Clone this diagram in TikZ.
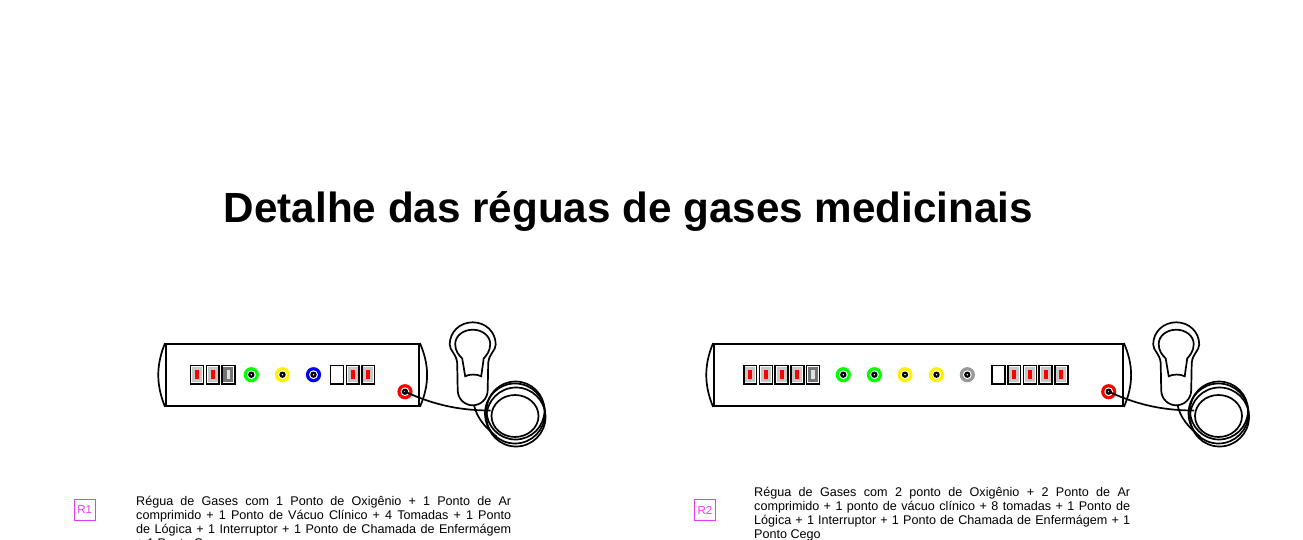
\documentclass[tikz,border=0pt]{standalone}
\usepackage{fontspec}
\setmainfont{Liberation Sans}
\definecolor{tagviolet}{HTML}{E23CF5}
\tikzset{
  x=1pt,y=-1pt,
  rail/.style={draw=black,line width=1.8pt,inner sep=0pt,minimum height=62pt},
  tag/.style={draw=tagviolet,line width=1.3pt,text=tagviolet,inner sep=0pt,minimum width=21pt,minimum height=20.5pt,font=\fontsize{11.5}{12}\selectfont},
  desc/.style={anchor=north west,inner sep=0pt,align=justify,font=\fontsize{12.6}{14}\selectfont},
  wire/.style={line width=1.7pt,draw=black},
  pics/gas/.style={code={
    \fill[#1] (0,0) circle (7.6);
    \fill[white] (0,0) circle (4.4);
    \fill[black] (0,0) circle (3.2);
    \fill[white] (0,0) circle (.8);
  }},
  pics/blankbox/.style={code={
    \draw[line width=1.6pt,fill=white] (-6.4,-9.2) rectangle (6.4,9.2);
  }},
  pics/powerbox/.style={code={
    \draw[line width=1.6pt,fill=white] (-6.4,-9.2) rectangle (6.4,9.2);
    \fill[black!22] (-5,-7.6) rectangle (5,7.6);
    \fill[red] (-2,-4.5) rectangle (2,4.5);
  }},
  pics/switchbox/.style={code={
    \draw[line width=1.6pt,fill=white] (-6.4,-9.2) rectangle (6.4,9.2);
    \fill[black!55] (-5,-7.6) rectangle (5,7.6);
    \fill[black!12] (-1.8,-4.5) rectangle (1.8,4.5);
  }},
  pics/handset/.style={code={
    \begin{scope}[wire]
    \draw (0,-52.7) .. controls (13,-52.7) and (23,-43) .. (23,-30.5)
      .. controls (23,-24) and (16.5,-22) .. (15.5,-12) -- (15,15)
      .. controls (15,24) and (8,30.3) .. (0,30.3)
      .. controls (-8,30.3) and (-15,24) .. (-15,15) -- (-15.5,-12)
      .. controls (-16.5,-22) and (-23,-24) .. (-23,-30.5)
      .. controls (-23,-43) and (-13,-52.7) .. (0,-52.7) -- cycle;
    \draw (0,-45.3) .. controls (9.7,-45.3) and (17.5,-39) .. (17.5,-31)
      .. controls (17.5,-24) and (14,-20) .. (11,-16.5) -- (8.5,1.3)
      .. controls (5,-1) and (-4,-1) .. (-7.5,1.3) -- (-10.5,-16.5)
      .. controls (-14,-20) and (-17.5,-24) .. (-17.5,-31)
      .. controls (-17.5,-39) and (-9.7,-45.3) .. (0,-45.3) -- cycle;
    \draw (42.8,35.5) circle (29);
    \draw (42.3,38.5) circle (30);
    \draw (43.3,42) circle (29.5);
    \draw (42.3,41) ellipse (23.5 and 21);
    \draw (1.3,30) .. controls (4,43) and (13,53) .. (24,61.7);
    \end{scope}
    \coordinate (-end) at (18,35.5);
  }},
}
\begin{document}
\begin{tikzpicture}
\useasboundingbox (0,0) rectangle (1303,540);
\clip (0,0) rectangle (1303,540);
\fill[white] (0,0) rectangle (1303,540);

\node[inner sep=0pt,font=\fontsize{42.2}{48}\selectfont\bfseries] (title) at (628.5,211.5) {Detalhe das réguas de gases medicinais};

% --- R1 ---
\node[rail,minimum width=253pt] (rail1) at (292.5,375) {};
\draw[wire] (rail1.north west) .. controls (156,365) and (156,385) .. (rail1.south west);
\draw[wire] (rail1.north east) .. controls (429.5,365) and (429.5,385) .. (rail1.south east);
\pic at (197,374.5) {powerbox};
\pic at (212.7,374.5) {powerbox};
\pic at (228.4,374.5) {switchbox};
\pic at (251.3,374.7) {gas=green};
\pic at (282.5,374.7) {gas=yellow};
\pic at (313.5,374.7) {gas=blue};
\pic at (337,374.5) {blankbox};
\pic at (352.8,374.5) {powerbox};
\pic at (368.2,374.5) {powerbox};
\pic at (405,391.7) {gas=red};
\coordinate (plug1) at (405,391.7);
\pic (hs1) at (472.7,375) {handset};
\draw[wire] (plug1) .. controls (430,403) and (455,410.5) .. (hs1-end);

\node[tag] (tag1) at (84.7,510) {R1};
\node[desc,text width=375pt] (txt1) at (136,496.5) {Régua de Gases com 1 Ponto de Oxigênio + 1 Ponto de Ar\linebreak comprimido + 1 Ponto de Vácuo Clínico + 4 Tomadas + 1 Ponto\linebreak de Lógica + 1 Interruptor + 1 Ponto de Chamada de Enfermágem\linebreak + 1 Ponto Cego};

% --- R2 ---
\node[rail,minimum width=409pt] (rail2) at (918.5,375) {};
\draw[wire] (rail2.north west) .. controls (704,365) and (704,385) .. (rail2.south west);
\draw[wire] (rail2.north east) .. controls (1133.5,365) and (1133.5,385) .. (rail2.south east);
\pic at (750.2,374.5) {powerbox};
\pic at (765.9,374.5) {powerbox};
\pic at (781.6,374.5) {powerbox};
\pic at (797.3,374.5) {powerbox};
\pic at (813,374.5) {switchbox};
\pic at (843.3,374.7) {gas=green};
\pic at (874.4,374.7) {gas=green};
\pic at (905,374.7) {gas=yellow};
\pic at (936.5,374.7) {gas=yellow};
\pic at (967.3,374.7) {gas={black!40}};
\pic at (998.5,374.5) {blankbox};
\pic at (1014.2,374.5) {powerbox};
\pic at (1029.9,374.5) {powerbox};
\pic at (1045.6,374.5) {powerbox};
\pic at (1061.3,374.5) {powerbox};
\pic at (1108.7,391.7) {gas=red};
\coordinate (plug2) at (1108.7,391.7);
\pic (hs2) at (1176.2,375) {handset};
\draw[wire] (plug2) .. controls (1133.7,403) and (1158.7,410.5) .. (hs2-end);

\node[tag] (tag2) at (705,510) {R2};
\node[desc,text width=376pt] (txt2) at (754,487.5) {Régua de Gases com 2 ponto de Oxigênio + 2 Ponto de Ar\linebreak comprimido + 1 ponto de vácuo clínico + 8 tomadas + 1 Ponto de\linebreak Lógica + 1 Interruptor + 1 Ponto de Chamada de Enfermágem + 1\linebreak Ponto Cego};
\end{tikzpicture}
\end{document}
